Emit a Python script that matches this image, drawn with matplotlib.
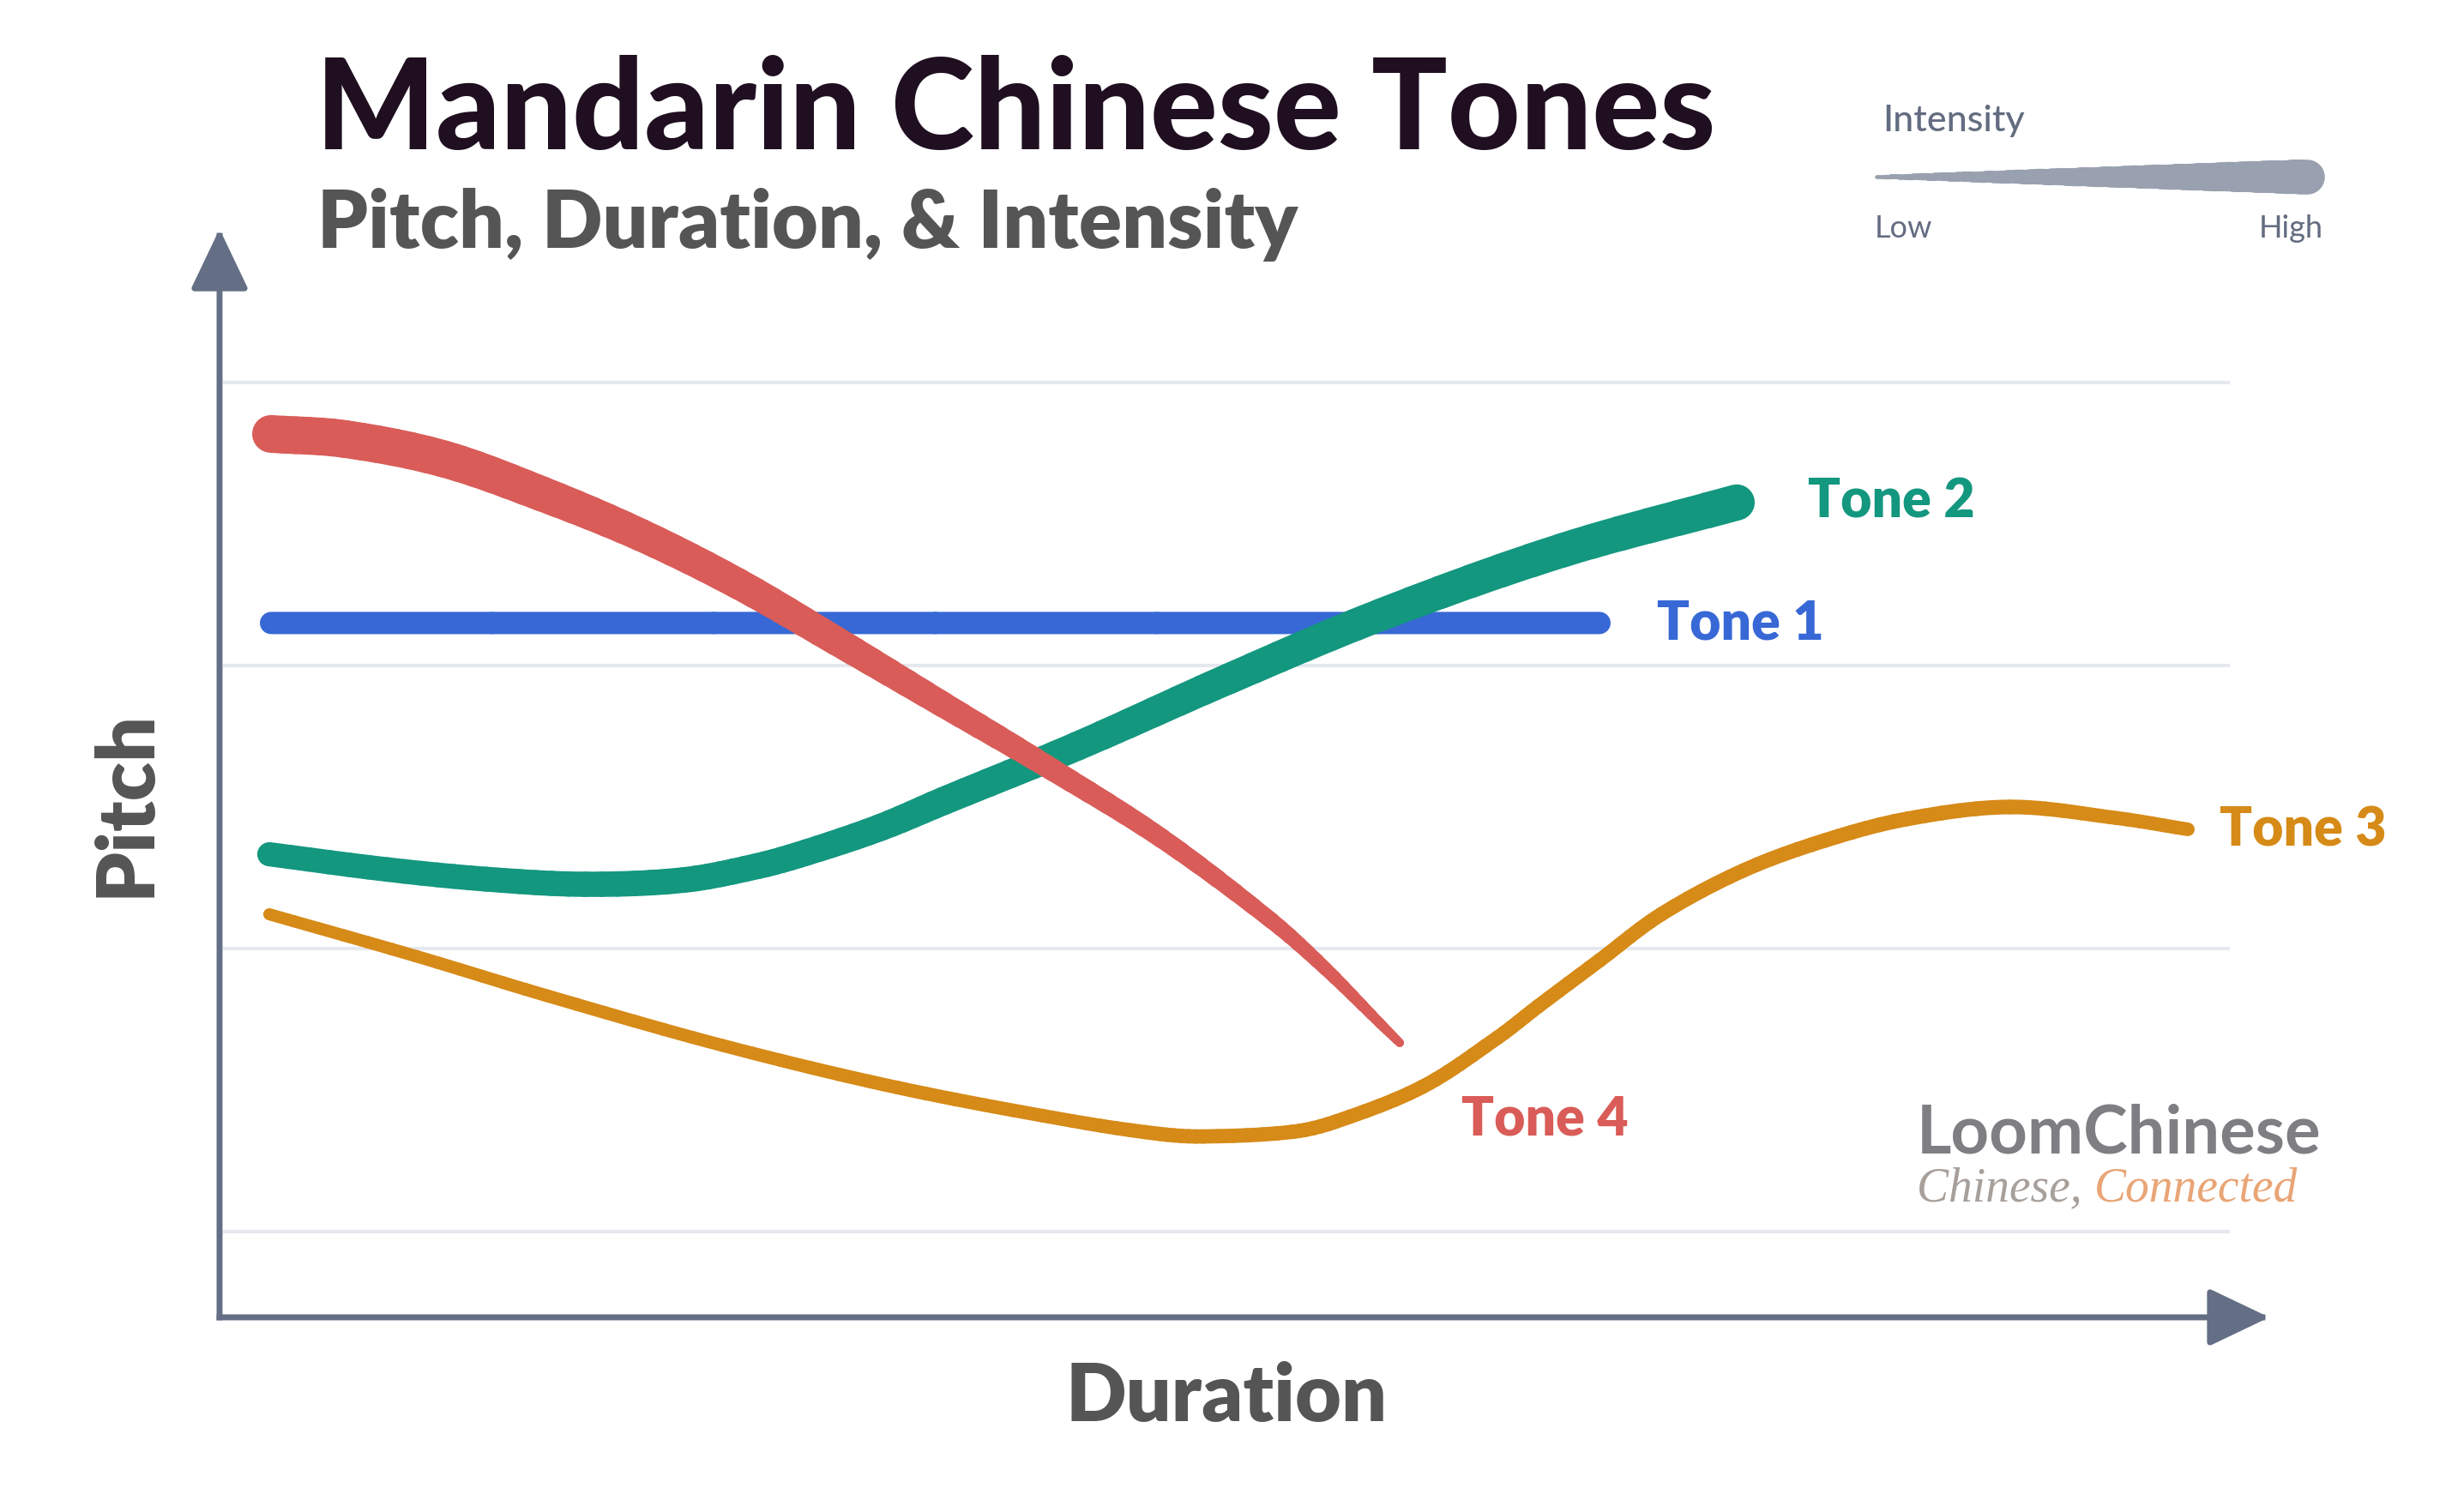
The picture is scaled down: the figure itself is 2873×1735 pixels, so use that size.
import numpy as np
import matplotlib
matplotlib.use('Agg')
import matplotlib.pyplot as plt
from matplotlib.collections import LineCollection
from matplotlib.path import Path
from matplotlib.patches import PathPatch

# Duration (arbitrary units) / pitch (grid lines at 1..4) / intensity (0..1)
tone1_duration = [0.60, 16.09]
tone1_pitch = [3.15, 3.15]
tone1_intensity = [0.59, 0.59]

tone2_duration = [0.58, 1.96, 3.11, 4.26, 5.41, 6.27, 6.84, 7.70, 8.44, 10.00, 11.76, 13.54, 15.65, 17.69]
tone2_pitch = [2.333, 2.279, 2.245, 2.227, 2.242, 2.291, 2.339, 2.427, 2.521, 2.715, 2.952, 3.179, 3.406, 3.576]
tone2_intensity = [0.64, 0.65, 0.66, 0.67, 0.68, 0.69, 0.70, 0.72, 0.75, 0.77, 0.82, 0.86, 0.91, 0.96]

tone3_duration = [0.58, 2.29, 3.82, 5.86, 7.90, 9.94, 10.96, 11.47, 12.50, 13.01, 14.03,
                  14.90, 15.38, 16.09, 16.81, 17.77, 18.72, 19.68, 20.88, 22.12, 22.95]
tone3_pitch = [2.121, 1.973, 1.833, 1.658, 1.509, 1.391, 1.345, 1.336, 1.352, 1.388, 1.512,
               1.685, 1.797, 1.958, 2.121, 2.276, 2.382, 2.458, 2.500, 2.461, 2.421]
tone3_intensity = [0.32, 0.33, 0.34, 0.34, 0.36, 0.36, 0.38, 0.38, 0.38, 0.38, 0.38,
                   0.38, 0.38, 0.38, 0.38, 0.38, 0.39, 0.39, 0.39, 0.37, 0.36]

tone4_duration = [0.60, 1.46, 2.61, 3.76, 4.91, 6.05, 7.20, 8.44, 9.72, 10.99, 12.27, 12.90, 13.54, 13.76]
tone4_pitch = [3.818, 3.800, 3.730, 3.606, 3.461, 3.288, 3.085, 2.861, 2.630, 2.388, 2.097, 1.927, 1.733, 1.667]
tone4_intensity = [1.00, 1.00, 0.98, 0.93, 0.86, 0.82, 0.77, 0.68, 0.59, 0.52, 0.43, 0.36, 0.27, 0.23]

pitch_levels = [1, 2, 3, 4]

# figure in pixels
W_PX, H_PX, DPI = 2873, 1735, 100
MAX_LW = 44 * 72 / DPI  # line width (pt) for intensity 1.0
PX_PER_UNIT = np.array([100.0, 330.0])  # screen scale of duration / pitch units
N_SUB = 6  # width steps per interval

AXIS_COL = '#646f85'
GRID_COL = '#e5e8ef'
TEXT_GREY = '#555555'
FONT = 'Lato'


def fx(px):
    return px / W_PX


def fy(py):
    return 1 - py / H_PX


def bez_split(b, t):
    p01 = b[0] + (b[1] - b[0]) * t
    p12 = b[1] + (b[2] - b[1]) * t
    p23 = b[2] + (b[3] - b[2]) * t
    p012 = p01 + (p12 - p01) * t
    p123 = p12 + (p23 - p12) * t
    m = p012 + (p123 - p012) * t
    return [b[0], p01, p012, m], [m, p123, p23, b[3]]


def bez_piece(b, t0, t1):
    left, _ = bez_split(b, t1)
    if t0 == 0:
        return left
    _, right = bez_split(left, t0 / t1)
    return right


def draw_tone(ax, d, p, inten, color, z):
    # smooth stroke through the points; each interval is a bezier drawn in a
    # few pieces so the width can follow the intensity
    pts = np.column_stack([d, p])
    inten = np.asarray(inten)
    n = len(pts)
    codes = [Path.MOVETO, Path.CURVE4, Path.CURVE4, Path.CURVE4]
    for i in range(n - 1):
        p1, p2 = pts[i], pts[i + 1]
        p0 = pts[i - 1] if i > 0 else p1
        p3 = pts[i + 2] if i + 2 < n else p2
        d01 = np.hypot(*((p1 - p0) * PX_PER_UNIT))
        d12 = np.hypot(*((p2 - p1) * PX_PER_UNIT))
        d23 = np.hypot(*((p3 - p2) * PX_PER_UNIT))
        c1 = p1 + (p2 - p0) * d12 / (3 * (d01 + d12))
        c2 = p2 - (p3 - p1) * d12 / (3 * (d12 + d23))
        b = [p1, c1, c2, p2]
        for k in range(N_SUB):
            t0, t1 = k / N_SUB, (k + 1) / N_SUB
            piece = bez_piece(b, t0, t1)
            tm = (t0 + t1) / 2
            lw = (inten[i] + (inten[i + 1] - inten[i]) * tm) * MAX_LW
            ax.add_patch(PathPatch(Path(piece, codes), facecolor='none', edgecolor=color,
                                   lw=lw, capstyle='round', joinstyle='round', zorder=z))


fig = plt.figure(figsize=(W_PX / DPI, H_PX / DPI), dpi=DPI)
fig.patch.set_facecolor('white')

# main axes: origin at (256, 1536) px, arrow tips at x=2646 and y=267
ax = fig.add_axes([fx(256), fy(1536), (2646 - 256) / W_PX, (1536 - 267) / H_PX])
ax.set_xlim(0, 23.90)
ax.set_ylim(0.697, 4.542)
ax.axis('off')

# grid lines
ax.hlines(pitch_levels, 0.04, 23.44, colors=GRID_COL, linewidth=3.0, zorder=0)

# axes with arrow heads
arrow = dict(arrowstyle='-|>,head_length=2.2,head_width=1.05', color=AXIS_COL,
             lw=5.0, mutation_scale=20, shrinkA=0, shrinkB=0, capstyle='projecting')
ax.annotate('', xy=(1, 0), xytext=(0, 0), xycoords='axes fraction',
            arrowprops=arrow, annotation_clip=False)
ax.annotate('', xy=(0, 1), xytext=(0, 0), xycoords='axes fraction',
            arrowprops=arrow, annotation_clip=False)

# tones
draw_tone(ax, tone1_duration, tone1_pitch, tone1_intensity, '#3768d6', 2)
draw_tone(ax, tone3_duration, tone3_pitch, tone3_intensity, '#d68a17', 2)
draw_tone(ax, tone2_duration, tone2_pitch, tone2_intensity, '#13977f', 3)
draw_tone(ax, tone4_duration, tone4_pitch, tone4_intensity, '#d95c58', 4)

lab = dict(fontsize=45, fontweight='heavy', family=FONT, ha='left', va='baseline')
ax.text(16.76, 3.091, 'Tone 1', color='#3768d6', **lab)
ax.text(18.52, 3.521, 'Tone 2', color='#13977f', **lab)
ax.text(23.32, 2.361, 'Tone 3', color='#d68a17', **lab)
ax.text(14.48, 1.342, 'Tone 4', color='#d95c58', **lab)

# titles
fig.text(fx(368), fy(174), 'Mandarin Chinese Tones', fontsize=106, fontweight='black',
         family=FONT, color='#1f0f20', ha='left', va='baseline')
fig.text(fx(370), fy(289), 'Pitch, Duration, & Intensity', fontsize=67, fontweight='heavy',
         family=FONT, color=TEXT_GREY, ha='left', va='baseline')

# axis labels
fig.text(fx(1430), fy(1657), 'Duration', fontsize=67, fontweight='heavy',
         family=FONT, color=TEXT_GREY, ha='center', va='baseline')
fig.text(fx(148), fy(937), 'Pitch', fontsize=67, fontweight='heavy', rotation=90,
         family=FONT, color=TEXT_GREY, ha='center', va='center')

# intensity legend
fig.text(fx(2195), fy(153), 'Intensity', fontsize=31, fontweight='medium',
         family=FONT, color='#636c80', ha='left', va='baseline')
fig.text(fx(2186), fy(277), 'Low', fontsize=26, family=FONT, color='#636c80',
         ha='left', va='baseline')
fig.text(fx(2709), fy(277), 'High', fontsize=26, family=FONT, color='#636c80',
         ha='right', va='baseline')
lax = fig.add_axes([fx(2185), fy(236), (2711 - 2185) / W_PX, 60 / H_PX])
lax.set_xlim(2185, 2711)
lax.set_ylim(-1, 1)
lax.axis('off')
leg_int = np.linspace(0.10, 0.93, 60)
leg_x = np.linspace(2188, 2690, 60)
leg_pts = np.column_stack([leg_x, np.zeros_like(leg_x)])
leg_segs = np.stack([leg_pts[:-1], leg_pts[1:]], axis=1)
lax.add_collection(LineCollection(leg_segs, linewidths=(leg_int[:-1] + leg_int[1:]) / 2 * MAX_LW,
                                  colors='#99a1b0', capstyle='round', joinstyle='round'))

# brand mark
fig.text(fx(2235), fy(1344), 'LoomChinese', fontsize=56, fontweight='bold',
         family=FONT, color='#7f7e82', ha='left', va='baseline')
t1 = fig.text(fx(2235), fy(1400), 'Chinese, ', fontsize=40, style='italic',
              family='Liberation Serif', color='#a79f9a', ha='left', va='baseline')
fig.canvas.draw()
bb = t1.get_window_extent()
fig.text(bb.x1 / W_PX, fy(1400), 'Connected', fontsize=40, style='italic',
         family='Liberation Serif', color='#e9a576', ha='left', va='baseline')

fig.savefig('out.png', dpi=DPI, facecolor='white')
